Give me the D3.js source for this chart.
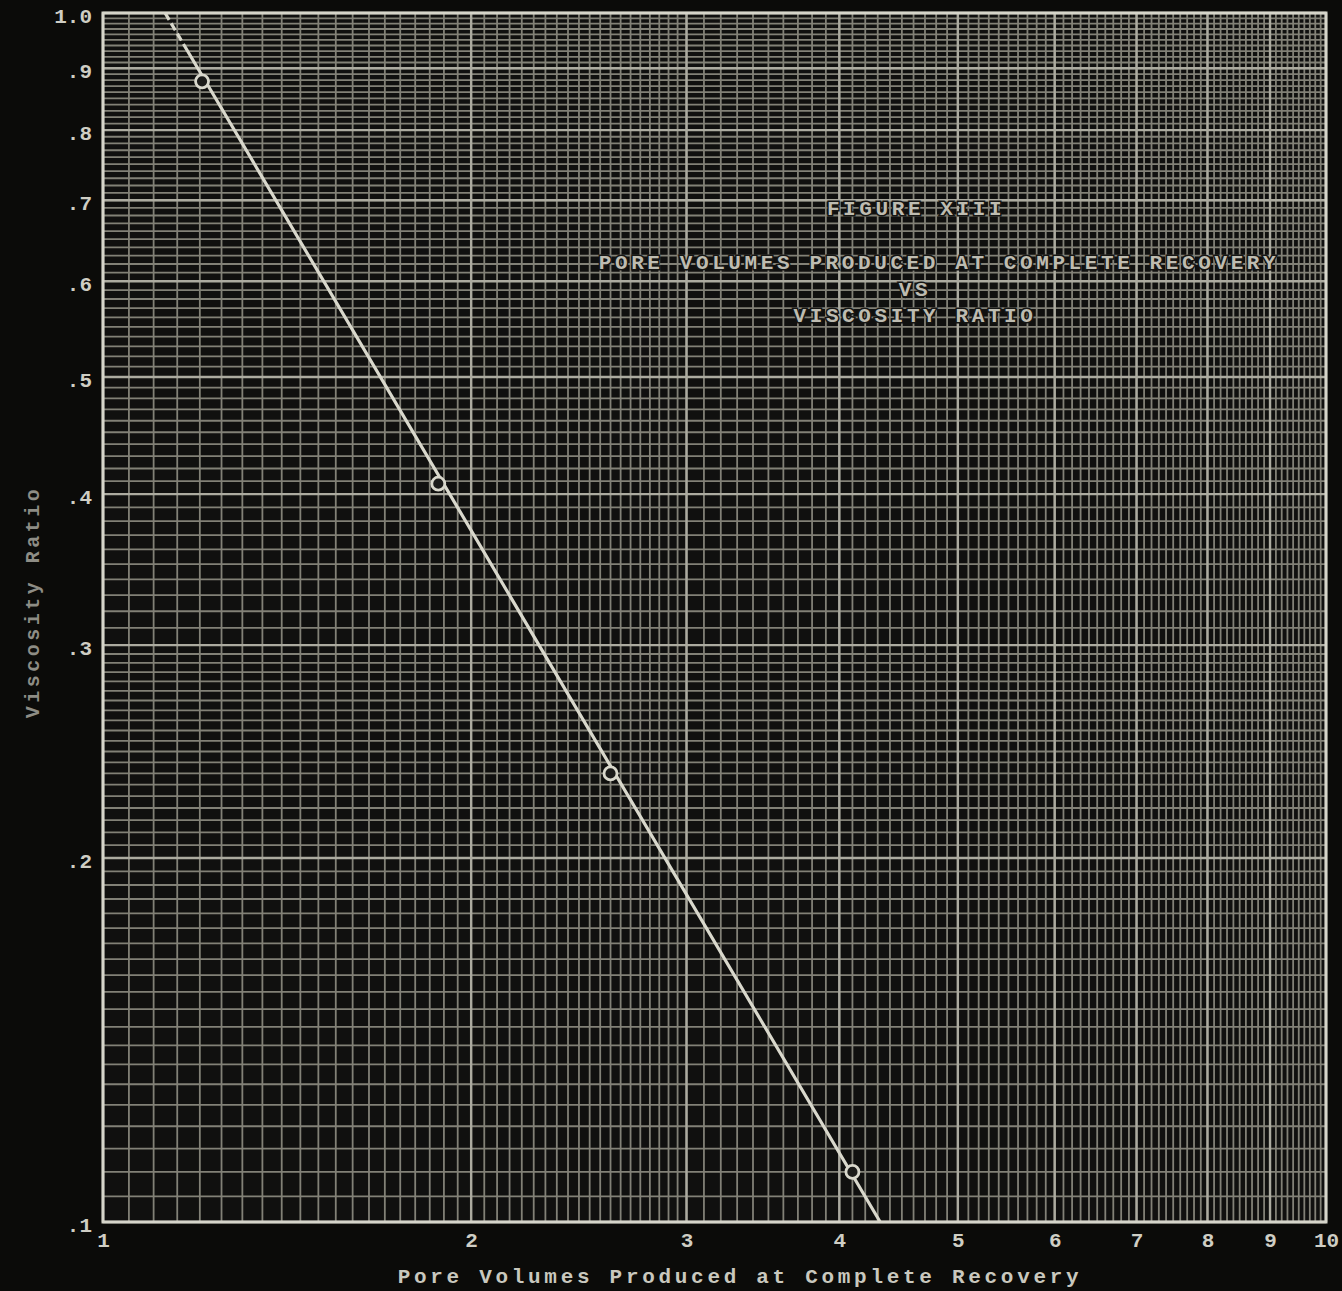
<!DOCTYPE html>
<html>
<head>
<meta charset="utf-8">
<script src="https://cdn.jsdelivr.net/npm/d3@7"></script>
<style>
  html, body { margin: 0; padding: 0; background: #0b0b09; }
  svg { display: block; }
  text { font-family: "Liberation Mono", "DejaVu Sans Mono", monospace; font-weight: bold; }
</style>
</head>
<body>
<div id="chart"></div>
<script>
// Data
const xTicks = [1, 2, 3, 4, 5, 6, 7, 8, 9, 10]
const yTicks = [0.1, 0.2, 0.3, 0.4, 0.5, 0.6, 0.7, 0.8, 0.9, 1.0]
const yTickLabels = [".1", ".2", ".3", ".4", ".5", ".6", ".7", ".8", ".9", "1.0"]

const poreVolumes = [1.205, 1.88, 2.60, 4.10]
const viscosityRatio = [0.878, 0.408, 0.235, 0.110]

// straight line drawn through the points
const fitPoreVolumes = [1.124, 4.32]
const fitViscosity = [1.0, 0.1]

const titleLines = [
  "FIGURE XIII",
  "PORE VOLUMES PRODUCED AT COMPLETE RECOVERY",
  "VS",
  "VISCOSITY RATIO"
]
const xTitle = "Pore Volumes Produced at Complete Recovery"
const yTitle = "Viscosity Ratio"

// Dimensions
let dimensions = {
  width: 1342,
  height: 1291,
  left: 103,
  right: 1326,
  top: 13,
  bottom: 1222
}

const svg = d3.select('#chart')
  .append("svg")
  .attr("width", dimensions.width)
  .attr("height", dimensions.height)

svg.append("rect")
  .attr("width", dimensions.width)
  .attr("height", dimensions.height)
  .attr("fill", "#0b0b09")

// Scales
const xScale = d3.scaleLog()
  .domain([1, 10])
  .range([dimensions.left, dimensions.right])

const yScale = d3.scaleLog()
  .domain([0.1, 1])
  .range([dimensions.bottom, dimensions.top])

svg.append("rect")
  .attr("x", dimensions.left)
  .attr("y", dimensions.top)
  .attr("width", dimensions.right - dimensions.left)
  .attr("height", dimensions.bottom - dimensions.top)
  .attr("fill", "#10100f")

// log paper rulings: 1-3 by 0.05, 3-10 by 0.1
const cycleLines = d3.range(1, 3, 0.05).concat(d3.range(3, 10.001, 0.1))
  .map(v => Math.round(v * 100) / 100)
const xMinor = cycleLines
const yMinor = cycleLines.map(v => v / 10)

const grid = svg.append("g")

grid.selectAll(".vx")
  .data(xMinor)
  .join("line")
  .attr("x1", d => xScale(d))
  .attr("x2", d => xScale(d))
  .attr("y1", dimensions.top)
  .attr("y2", dimensions.bottom)
  .attr("stroke", "#828177")
  .attr("stroke-width", 1.8)

grid.selectAll(".hy")
  .data(yMinor)
  .join("line")
  .attr("y1", d => yScale(d))
  .attr("y2", d => yScale(d))
  .attr("x1", dimensions.left)
  .attr("x2", dimensions.right)
  .attr("stroke", "#828177")
  .attr("stroke-width", 1.8)

// heavier lines at the whole numbers
grid.selectAll(".vmaj")
  .data(xTicks)
  .join("line")
  .attr("x1", d => xScale(d))
  .attr("x2", d => xScale(d))
  .attr("y1", dimensions.top)
  .attr("y2", dimensions.bottom)
  .attr("stroke", "#acaba0")
  .attr("stroke-width", 2.4)

grid.selectAll(".hmaj")
  .data(yTicks)
  .join("line")
  .attr("y1", d => yScale(d))
  .attr("y2", d => yScale(d))
  .attr("x1", dimensions.left)
  .attr("x2", dimensions.right)
  .attr("stroke", "#acaba0")
  .attr("stroke-width", 2.4)

// frame
svg.append("rect")
  .attr("x", dimensions.left)
  .attr("y", dimensions.top)
  .attr("width", dimensions.right - dimensions.left)
  .attr("height", dimensions.bottom - dimensions.top)
  .attr("fill", "none")
  .attr("stroke", "#d6d5ca")
  .attr("stroke-width", 3)

// Axes
const xAxis = d3.axisBottom(xScale)
  .tickValues(xTicks)
  .tickFormat(d3.format("d"))
  .tickSize(0)
  .tickPadding(10)

const xAxisGroup = svg.append("g")
  .attr("transform", `translate(0, ${dimensions.bottom})`)
  .call(xAxis)
xAxisGroup.select(".domain").remove()
xAxisGroup.selectAll("text")
  .attr("fill", "#cfcec4")
  .style("font-size", "21px")

const yAxis = d3.axisLeft(yScale)
  .tickValues(yTicks)
  .tickFormat((d, i) => yTickLabels[i])
  .tickSize(0)
  .tickPadding(11)

const yAxisGroup = svg.append("g")
  .attr("transform", `translate(${dimensions.left}, 0)`)
  .call(yAxis)
yAxisGroup.select(".domain").remove()
yAxisGroup.selectAll("text")
  .attr("fill", "#cfcec4")
  .style("font-size", "21px")
  .attr("dy", "0.45em")

// Fit line
const line = d3.line()
  .x(d => xScale(d[0]))
  .y(d => yScale(d[1]))

svg.append("path")
  .datum(d3.zip(fitPoreVolumes, fitViscosity))
  .attr("d", line)
  .attr("fill", "none")
  .attr("stroke", "#d9d8cc")
  .attr("stroke-width", 3.2)
  .attr("stroke-dasharray", "8,4,8,4,8,4,3000")

// Points
svg.selectAll(".pt")
  .data(d3.zip(poreVolumes, viscosityRatio))
  .join("circle")
  .attr("cx", d => xScale(d[0]))
  .attr("cy", d => yScale(d[1]))
  .attr("r", 6.5)
  .attr("fill", "#1c1c1a")
  .attr("stroke", "#d9d8cc")
  .attr("stroke-width", 2.8)

// Title block
const titleY = [208, 262, 289, 315]
const titleX = [916, 939, 915, 915]
svg.selectAll(".title")
  .data(titleLines)
  .join("text")
  .attr("x", (d, i) => titleX[i])
  .attr("y", (d, i) => titleY[i])
  .attr("text-anchor", "middle")
  .attr("dy", "0.35em")
  .attr("fill", "#bebcb1")
  .attr("stroke", "#161614")
  .attr("stroke-width", 3)
  .attr("paint-order", "stroke")
  .style("font-size", "21px")
  .style("letter-spacing", "3.6px")
  .text(d => d)

// Axis titles
svg.append("text")
  .attr("x", 740)
  .attr("y", 1276)
  .attr("text-anchor", "middle")
  .attr("dy", "0.35em")
  .attr("fill", "#c9c8be")
  .style("font-size", "21px")
  .style("letter-spacing", "3.7px")
  .text(xTitle)

svg.append("text")
  .attr("transform", "translate(32, 602) rotate(-90)")
  .attr("text-anchor", "middle")
  .attr("dy", "0.35em")
  .attr("fill", "#8e8d85")
  .style("font-size", "20px")
  .style("letter-spacing", "3.5px")
  .text(yTitle)
</script>
</body>
</html>
